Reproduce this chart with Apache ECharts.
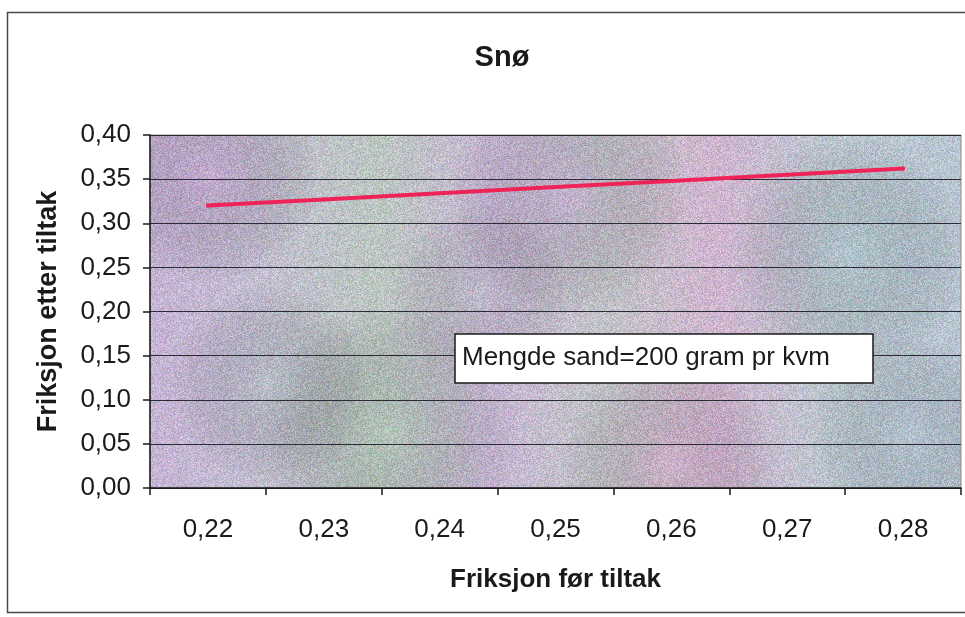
<!DOCTYPE html>
<html>
<head>
<meta charset="utf-8">
<script src="https://cdn.jsdelivr.net/npm/echarts@6/dist/echarts.min.js"></script>
<style>
  html, body { margin: 0; padding: 0; background: #ffffff; }
  #chart { width: 965px; height: 617px; }
</style>
</head>
<body>
<div id="chart"></div>
<script>
// Friction before treatment (category labels on the x axis)
const frictionBefore = ['0,22', '0,23', '0,24', '0,25', '0,26', '0,27', '0,28'];
// Friction after treatment with 200 g sand per m²
const frictionAfter = [0.320, 0.327, 0.334, 0.341, 0.348, 0.355, 0.362];
// Value-axis range and step
const yMin = 0;
const yMax = 0.40;
const yStep = 0.05;

const chartTitle = 'Snø';
const xTitle = 'Friksjon før tiltak';
const yTitle = 'Friksjon etter tiltak';
const noteText = 'Mengde sand=200 gram pr kvm';

// Plot-area rectangle (pixels)
const plot = { left: 150, top: 135, right: 4, bottom: 129 };
const plotW = 965 - plot.left - plot.right;
const plotH = 617 - plot.top - plot.bottom;

// Speckled pastel "granite" fill for the plot area
function makeGranite(w, h) {
  const c = document.createElement('canvas');
  c.width = w; c.height = h;
  const ctx = c.getContext('2d');
  const g = ctx.createLinearGradient(0, 0, w, 0);
  g.addColorStop(0.00, '#c6b4d4');
  g.addColorStop(0.12, '#c4bed2');
  g.addColorStop(0.28, '#bcc7c2');
  g.addColorStop(0.42, '#c8b8d4');
  g.addColorStop(0.56, '#c2c4c8');
  g.addColorStop(0.70, '#d0b6d0');
  g.addColorStop(0.84, '#bcc8d0');
  g.addColorStop(1.00, '#b8c6d2');
  ctx.fillStyle = g;
  ctx.fillRect(0, 0, w, h);
  // soft colour patches
  const blobs = [
    [60, 40, 110, 'rgba(200,150,210,0.35)'],
    [240, 300, 130, 'rgba(160,200,170,0.30)'],
    [420, 60, 120, 'rgba(195,155,215,0.30)'],
    [520, 330, 110, 'rgba(215,160,200,0.30)'],
    [700, 120, 120, 'rgba(160,195,205,0.30)'],
    [330, 160, 90, 'rgba(170,195,185,0.25)'],
    [760, 300, 100, 'rgba(170,190,210,0.30)'],
    [120, 250, 100, 'rgba(170,195,195,0.30)']
  ];
  blobs.forEach(([x, y, r, col]) => {
    const rg = ctx.createRadialGradient(x, y, 0, x, y, r);
    rg.addColorStop(0, col);
    rg.addColorStop(1, 'rgba(0,0,0,0)');
    ctx.fillStyle = rg;
    ctx.fillRect(0, 0, w, h);
  });
  // deterministic fine speckle
  const img = ctx.getImageData(0, 0, w, h);
  const d = img.data;
  let s = 12345;
  const rnd = () => { s = (s * 1103515245 + 12345) & 0x7fffffff; return s / 0x7fffffff; };
  for (let y = 0; y < h; y++) {
    for (let x = 0; x < w; x++) {
      const i = (y * w + x) * 4;
      const L = (rnd() - 0.5) * 44;
      const cr = (rnd() - 0.5) * 26, cg = (rnd() - 0.5) * 26, cb = (rnd() - 0.5) * 26;
      d[i] = Math.max(0, Math.min(255, d[i] + L + cr));
      d[i + 1] = Math.max(0, Math.min(255, d[i + 1] + L + cg));
      d[i + 2] = Math.max(0, Math.min(255, d[i + 2] + L + cb));
    }
  }
  ctx.putImageData(img, 0, 0);
  return c;
}

const fmt = v => v.toFixed(2).replace('.', ',');
const font = '"Liberation Sans", Arial, sans-serif';

const chart = echarts.init(document.getElementById('chart'), null, { renderer: 'canvas' });

chart.setOption({
  animation: false,
  backgroundColor: '#ffffff',
  title: {
    text: chartTitle,
    left: 497,
    top: 38,
    textAlign: 'center',
    textStyle: { fontFamily: font, fontSize: 29, fontWeight: 'bold', color: '#1a1a1a' }
  },
  grid: {
    left: plot.left, top: plot.top, right: plot.right, bottom: plot.bottom,
    show: true, borderColor: '#8a8a8a', borderWidth: 1, backgroundColor: 'transparent'
  },
  xAxis: {
    type: 'category',
    data: frictionBefore,
    boundaryGap: true,
    name: xTitle,
    nameLocation: 'middle',
    nameGap: 79,
    nameTextStyle: { fontFamily: font, fontSize: 26, fontWeight: 'bold', color: '#1a1a1a' },
    axisLine: { lineStyle: { color: '#1a1a1a', width: 1.5 } },
    axisTick: { show: true, alignWithLabel: false, length: 7, lineStyle: { color: '#1a1a1a', width: 1.5 } },
    axisLabel: { margin: 29, fontFamily: font, fontSize: 26, color: '#1a1a1a' },
    splitLine: { show: false }
  },
  yAxis: {
    type: 'value',
    min: yMin,
    max: yMax,
    interval: yStep,
    name: yTitle,
    nameLocation: 'middle',
    nameGap: 88,
    nameTextStyle: { fontFamily: font, fontSize: 27, fontWeight: 'bold', color: '#1a1a1a' },
    axisLine: { show: true, lineStyle: { color: '#1a1a1a', width: 1.5 } },
    axisTick: { show: true, length: 7, lineStyle: { color: '#1a1a1a', width: 1.5 } },
    axisLabel: { margin: 19, fontFamily: font, fontSize: 26, color: '#1a1a1a', formatter: fmt },
    splitLine: { show: true, lineStyle: { color: '#2b2b38', width: 1.2 } }
  },
  series: [{
    type: 'line',
    data: frictionAfter,
    symbol: 'circle',
    symbolSize: 4,
    lineStyle: { color: '#ee2459', width: 4, cap: 'round' },
    itemStyle: { color: '#ee2459' },
    z: 5
  }],
  graphic: [
    {
      type: 'image',
      left: plot.left,
      top: plot.top,
      z: -10,
      silent: true,
      style: { image: makeGranite(plotW, plotH), width: plotW, height: plotH }
    },
    {
      type: 'rect',
      z: -20,
      silent: true,
      shape: { x: 7.5, y: 12.5, width: 990, height: 600 },
      style: { fill: 'none', stroke: '#4a4a4a', lineWidth: 1.5 }
    },
    {
      type: 'rect',
      z: 20,
      silent: true,
      shape: { x: 455, y: 334, width: 418, height: 49 },
      style: { fill: '#ffffff', stroke: '#1a1a1a', lineWidth: 1.5 }
    },
    {
      type: 'text',
      z: 21,
      silent: true,
      x: 462,
      y: 358,
      style: {
        text: noteText,
        fontFamily: font, fontSize: 26, fill: '#1a1a1a',
        verticalAlign: 'middle'
      }
    }
  ]
});
</script>
</body>
</html>
